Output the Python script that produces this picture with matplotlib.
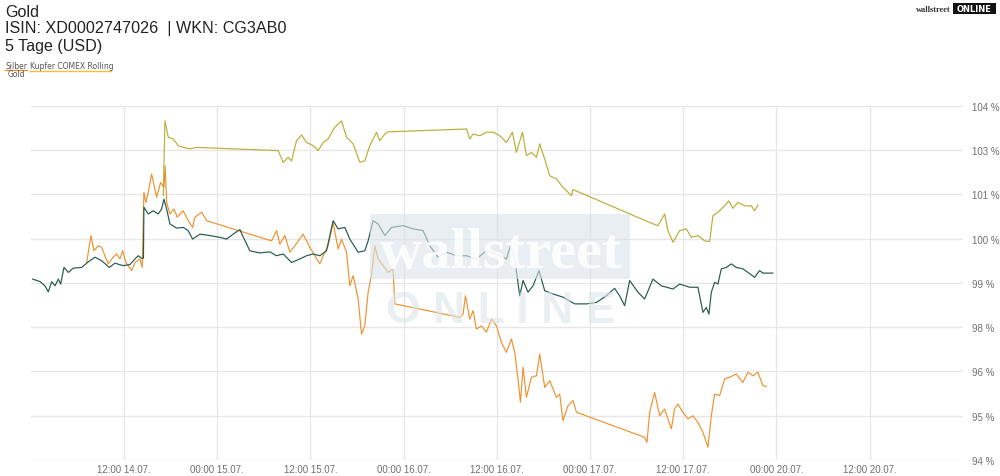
import matplotlib
matplotlib.use("Agg")
import matplotlib.pyplot as plt
from matplotlib.patches import Rectangle
from matplotlib.lines import Line2D

# ---------------- data ----------------
# x = trading hours since 00:00 14.07. (weekend removed), y = % of start value
gold_x = [0.25, 1.19, 1.83, 2.26, 2.70, 3.12, 3.55, 3.85, 4.28, 4.83, 5.48, 6.56, 7.41, 8.27,
          9.13, 10.11, 10.84, 11.91, 12.77, 13.42, 13.84, 14.28, 14.51, 14.57, 15.13, 15.77,
          16.41, 16.85, 17.15, 17.49, 17.92, 18.78, 19.63, 20.27, 20.84, 21.78, 23.07, 24.35,
          25.22, 26.06, 26.93, 27.27, 28.21, 29.50, 30.79, 31.65, 32.50, 33.58, 34.65, 35.51,
          36.36, 37.22, 38.08, 38.93, 39.58, 40.44, 41.08, 42.15, 43.01, 43.44, 44.08, 44.72,
          45.59, 46.45, 47.94, 49.23, 50.51, 51.38, 52.44, 53.53, 54.81, 56.10, 57.39, 58.67,
          59.96, 61.25, 61.76, 62.32, 62.96, 63.39, 64.03, 64.67, 65.44, 66.18, 67.24, 68.53,
          70.04, 71.54, 72.83, 74.11, 75.18, 75.82, 76.47, 77.11, 78.18, 79.04, 80.11, 81.19,
          82.69, 83.55, 84.84, 85.90, 86.55, 86.98, 87.32, 87.63, 88.05, 88.48, 88.91, 89.56,
          90.20, 90.84, 91.69, 92.34, 93.20, 93.84, 94.27, 95.55]
gold_y = [99.11, 99.04, 98.92, 98.75, 99.04, 98.92, 99.11, 98.97, 99.44, 99.30, 99.42, 99.44,
          99.60, 99.73, 99.63, 99.44, 99.56, 99.49, 99.52, 99.68, 99.77, 99.70, 99.70, 101.14,
          100.95, 101.04, 100.95, 101.09, 101.37, 101.09, 100.67, 100.55, 100.57, 100.48, 100.24,
          100.38, 100.34, 100.29, 100.24, 100.38, 100.51, 100.34, 99.91, 99.85, 99.88, 99.77,
          99.82, 99.58, 99.68, 99.77, 99.82, 99.77, 99.91, 100.76, 100.53, 100.57, 100.24, 99.87,
          99.91, 100.19, 100.76, 100.67, 100.34, 100.57, 100.62, 100.53, 100.48, 100.05, 99.73,
          99.87, 99.77, 99.77, 99.68, 99.91, 99.82, 99.68, 100.05, 99.68, 98.64, 99.07, 98.74,
          98.92, 99.35, 98.78, 98.69, 98.60, 98.41, 98.41, 98.45, 98.64, 98.85, 98.64, 98.36,
          99.07, 98.74, 98.55, 99.11, 98.92, 98.83, 98.97, 98.88, 98.88, 98.17, 98.31, 98.12,
          98.74, 99.02, 98.97, 99.40, 99.44, 99.54, 99.44, 99.40, 99.30, 99.16, 99.35, 99.28,
          99.28]

silber_x = [7.20, 7.75, 8.14, 8.69, 9.13, 9.55, 9.98, 10.62, 11.06, 11.48, 11.83, 12.26, 12.99,
            13.42, 14.06, 14.35, 14.57, 14.83, 15.13, 15.56, 16.21, 16.72, 17.15, 17.31, 17.49,
            17.92, 18.43, 18.86, 19.63, 20.27, 20.84, 21.14, 22.00, 22.64, 31.01, 31.65, 32.07,
            32.72, 33.36, 34.00, 35.07, 35.93, 36.58, 37.22, 37.65, 38.29, 38.93, 39.58, 40.01,
            40.66, 41.08, 41.51, 42.15, 42.59, 43.01, 43.44, 43.87, 44.30, 44.72, 45.37, 46.01,
            46.65, 46.87, 55.24, 55.66, 55.97, 56.52, 56.95, 57.39, 58.03, 58.67, 59.32, 59.96,
            60.60, 61.25, 61.89, 62.32, 62.74, 63.05, 63.39, 63.82, 64.47, 65.11, 65.53, 66.18,
            66.82, 67.68, 68.11, 68.53, 69.17, 69.82, 70.26, 79.04, 79.34, 79.69, 80.33, 80.97,
            81.62, 82.04, 82.48, 82.90, 83.33, 83.97, 84.62, 85.26, 85.90, 86.55, 87.19, 87.63,
            88.05, 88.70, 89.34, 89.98, 90.84, 91.69, 92.34, 92.98, 93.62, 94.27, 94.71]
silber_y = [99.58, 100.34, 99.91, 100.05, 100.01, 99.77, 99.54, 99.73, 99.82, 99.68, 99.91,
            99.58, 99.35, 99.58, 99.68, 99.44, 101.56, 101.28, 101.56, 102.08, 101.42, 101.84,
            101.70, 102.31, 101.28, 100.95, 101.09, 100.86, 101.04, 100.76, 100.57, 100.86,
            101.00, 100.76, 100.19, 100.48, 100.10, 100.34, 99.87, 100.05, 100.38, 100.01, 99.77,
            99.54, 99.77, 100.05, 100.71, 99.96, 100.24, 99.87, 98.92, 99.21, 98.55, 97.56, 97.79,
            98.74, 99.21, 100.05, 99.68, 99.49, 99.30, 99.40, 98.41, 98.03, 98.12, 98.64, 97.98,
            98.22, 97.70, 97.79, 97.61, 97.98, 97.79, 97.32, 97.04, 97.42, 97.04, 96.29, 95.63,
            96.62, 95.77, 96.34, 96.38, 96.99, 96.05, 96.24, 95.77, 95.86, 95.11, 95.53, 95.68,
            95.35, 94.64, 94.50, 95.35, 95.91, 95.25, 95.44, 95.16, 94.88, 95.44, 95.58, 95.35,
            95.16, 95.25, 95.06, 94.78, 94.36, 95.25, 95.86, 95.82, 96.29, 96.34, 96.43, 96.19,
            96.48, 96.38, 96.48, 96.10, 96.08]

kupfer_x = [17.06, 17.28, 17.70, 18.34, 18.99, 19.63, 20.49, 21.36, 31.86, 32.50, 33.14, 33.58,
            34.22, 34.87, 35.51, 36.36, 37.00, 37.65, 38.29, 39.15, 40.01, 40.66, 41.51, 42.37,
            43.01, 43.66, 44.52, 44.94, 45.59, 46.01, 56.10, 56.52, 56.95, 57.81, 58.67, 59.52,
            60.39, 61.25, 62.02, 62.53, 63.31, 63.82, 64.47, 65.11, 65.53, 66.18, 66.82, 67.68,
            68.53, 69.61, 69.82, 80.11, 80.75, 81.62, 82.04, 82.69, 83.55, 84.41, 85.05, 85.90,
            86.76, 87.41, 87.83, 88.48, 89.34, 89.89, 90.41, 91.05, 91.91, 92.77, 93.20, 93.62]
kupfer_y = [101.47, 103.58, 103.12, 103.07, 102.88, 102.83, 102.79, 102.83, 102.74, 102.41,
            102.55, 102.45, 103.02, 103.18, 102.97, 102.88, 102.74, 102.97, 103.07, 103.40,
            103.58, 103.12, 102.93, 102.41, 102.45, 102.88, 103.26, 103.02, 103.21, 103.27,
            103.35, 103.07, 103.21, 103.16, 103.26, 103.26, 103.16, 102.97, 103.26, 102.69,
            103.26, 102.60, 102.69, 102.55, 102.93, 102.50, 102.03, 101.94, 101.70, 101.47,
            101.64, 100.67, 100.62, 100.95, 100.48, 100.15, 100.48, 100.53, 100.29, 100.34,
            100.19, 100.17, 100.90, 101.00, 101.18, 101.32, 101.11, 101.28, 101.18, 101.18,
            101.04, 101.20]

x_ticks = [12, 24, 36, 48, 60, 72, 84, 96, 108]
x_labels = ["12:00 14.07.", "00:00 15.07.", "12:00 15.07.", "00:00 16.07.", "12:00 16.07.",
            "00:00 17.07.", "12:00 17.07.", "00:00 20.07.", "12:00 20.07."]
y_ticks = [94.0, 95.25, 96.5, 97.75, 99.0, 100.25, 101.5, 102.75, 104.0]
y_labels = ["94 %", "95 %", "96 %", "98 %", "99 %", "100 %", "101 %", "103 %", "104 %"]

# ---------------- styling ----------------
c_gold = "#245a4c"
c_silber = "#ee9230"
c_kupfer = "#b8ae38"
grid_c = "#e6e6e6"
txt_c = "#555555"

W, H = 1000, 477
fig = plt.figure(figsize=(W / 100, H / 100), dpi=100)
fig.patch.set_facecolor("white")

ax = fig.add_axes([30.75 / W, 16 / H, 932 / W, 354 / H])
ax.set_xlim(0, 120)
ax.set_ylim(94, 104)

ax.plot(silber_x, silber_y, color=c_silber, lw=0.85, zorder=3)
ax.plot(gold_x, gold_y, color=c_gold, lw=0.85, zorder=4)
ax.plot(kupfer_x, kupfer_y, color=c_kupfer, lw=0.85, zorder=3)

ax.set_xticks(x_ticks)
ax.set_xticklabels(x_labels)
ax.set_yticks(y_ticks)
ax.set_yticklabels(y_labels)
ax.yaxis.tick_right()
ax.grid(True, color=grid_c, lw=0.9, zorder=0)
ax.set_axisbelow(True)
for s in ax.spines.values():
    s.set_visible(False)
ax.tick_params(axis="both", length=0, labelsize=7.0, labelcolor="#707070",
               labelfontfamily="Liberation Sans")
ax.tick_params(axis="x", pad=3)
ax.tick_params(axis="y", pad=7)

# ---------------- watermark (on top, translucent) ----------------
fig.patches.append(Rectangle((370 / W, 1 - 280 / H), 260 / W, 65 / H,
                             transform=fig.transFigure, facecolor="#d9e3e8",
                             alpha=0.6, edgecolor="none", zorder=10))
fig.text(501 / W, 1 - 268 / H, "wallstreet", ha="center", va="baseline",
         fontsize=42, fontweight="bold", family="Liberation Serif",
         color="white", alpha=0.85, zorder=11)
fig.text(501 / W, 1 - 323 / H, "O N L I N E", ha="center", va="baseline",
         fontsize=32, fontweight="bold", family="Liberation Sans",
         color="#dde6ea", alpha=0.6, zorder=11)

# ---------------- header texts ----------------
for txt, yb in [("Gold", 17), ("ISIN: XD0002747026  | WKN: CG3AB0", 33.5), ("5 Tage (USD)", 50.5)]:
    fig.text(5 / W, 1 - yb / H, txt, fontsize=11.6, family="Liberation Sans",
             color="#222222", va="baseline")

# legend
fig.text(5 / W, 1 - 69.5 / H, "Silber", fontsize=5.5, family="DejaVu Sans",
         color=txt_c, va="baseline")
fig.text(30 / W, 1 - 69.5 / H, "Kupfer COMEX Rolling", fontsize=5.5, family="DejaVu Sans",
         color=txt_c, va="baseline")
fig.text(8 / W, 1 - 77 / H, "Gold", fontsize=5.5, family="DejaVu Sans",
         color=txt_c, va="baseline")
fig.lines.append(Line2D([5 / W, 27 / W], [1 - 71 / H, 1 - 71 / H], transform=fig.transFigure,
                        color=c_silber, lw=1.0))
fig.lines.append(Line2D([30 / W, 111 / W], [1 - 72 / H, 1 - 72 / H], transform=fig.transFigure,
                        color="#f0c040", lw=1.0))

# logo top right
fig.text(951 / W, 1 - 12.5 / H, "wallstreet", fontsize=6, family="Liberation Serif",
         fontweight="bold", color="#333333", ha="right", va="baseline")
fig.patches.append(Rectangle((953 / W, 1 - 15 / H), 43 / W, 11 / H, transform=fig.transFigure,
                             facecolor="#111111", edgecolor="none"))
fig.text(974.5 / W, 1 - 9.5 / H, "ONLINE", fontsize=6, family="DejaVu Sans",
         fontweight="bold", color="white", ha="center", va="center")

fig.savefig("out.png", dpi=100)
